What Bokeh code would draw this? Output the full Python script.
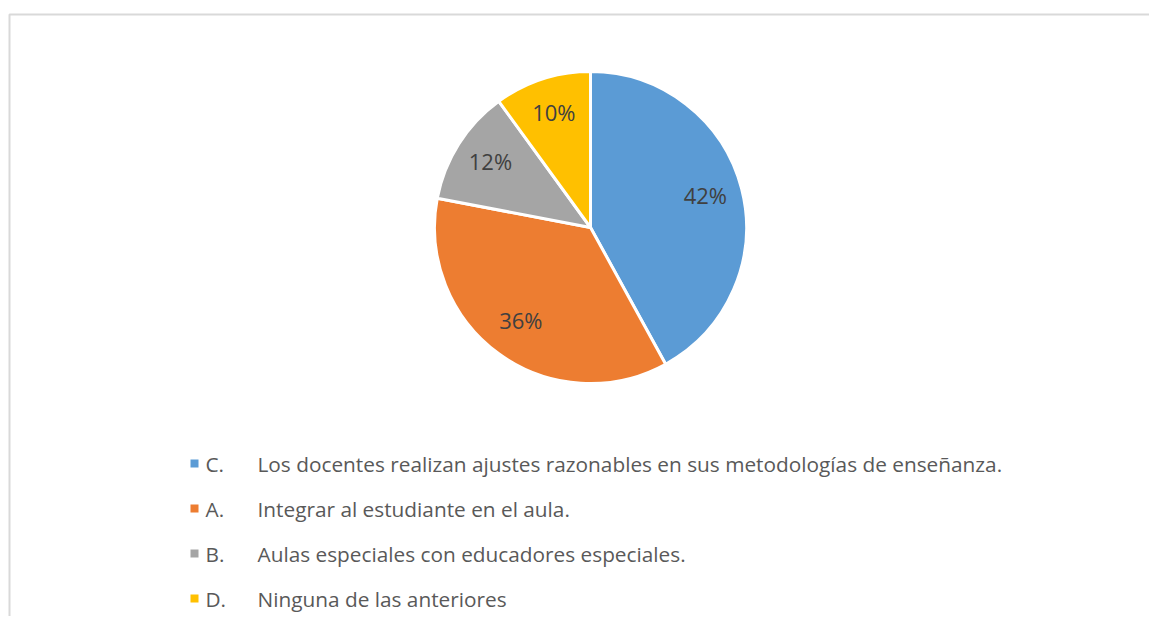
import math
from bokeh.plotting import figure
from bokeh.models import Range1d, ColumnDataSource
from bokeh.core.properties import value
from bokeh.embed import file_html
from bokeh.resources import INLINE

letters = ["C.", "A.", "B.", "D."]
descriptions = [
    "Los docentes realizan ajustes razonables en sus metodologías de enseñanza.",
    "Integrar al estudiante en el aula.",
    "Aulas especiales con educadores especiales.",
    "Ninguna de las anteriores",
]
shares = [42, 36, 12, 10]
colors = ["#5B9BD5", "#ED7D31", "#A5A5A5", "#FFC000"]

W, H = 1149, 616
CX, CY, R = 590, H - 227, 156
FONT = "Open Sans"

p = figure(width=W, height=H, output_backend="svg", toolbar_location=None,
           x_range=Range1d(0, W), y_range=Range1d(0, H), min_border=0)
p.axis.visible = False
p.grid.visible = False
p.outline_line_color = None
p.background_fill_color = "white"

# frame (top and left edges visible)
p.line([9, 9, W + 5], [-5, H - 14, H - 14], line_color="#D9D9D9", line_width=2)

total = sum(shares)
starts, ends, lx, ly, labels = [], [], [], [], []
cum = 0.0
for s in shares:
    a0 = math.pi / 2 - 2 * math.pi * cum / total
    cum += s
    a1 = math.pi / 2 - 2 * math.pi * cum / total
    starts.append(a0)
    ends.append(a1)
    mid = (a0 + a1) / 2
    lx.append(CX + 0.76 * R * math.cos(mid))
    ly.append(CY + 0.76 * R * math.sin(mid) + 3)
    labels.append(f"{s}%")

src = ColumnDataSource(dict(start=starts, end=ends, color=colors))
p.wedge(x=CX, y=CY, radius=R, start_angle="start", end_angle="end",
        direction="clock", fill_color="color", line_color="white",
        line_width=3, source=src)

p.text(x=lx, y=ly, text=labels, text_align="center", text_baseline="middle",
       text_font=value(FONT), text_font_size="22px", text_color="#404040")

# legend
row_y = [H - 463 - 45 * i for i in range(len(letters))]
p.rect(x=[194] * len(letters), y=row_y, width=8, height=8,
       fill_color=colors, line_color=None)
p.text(x=[205] * len(letters), y=row_y, text=letters, text_align="left",
       text_baseline="middle", text_font=value(FONT), text_font_size="20.8px",
       text_color="#595959")
p.text(x=[257] * len(letters), y=row_y, text=descriptions, text_align="left",
       text_baseline="middle", text_font=value(FONT), text_font_size="20.8px",
       text_color="#595959")

open("out.html", "w").write(file_html(p, INLINE))
